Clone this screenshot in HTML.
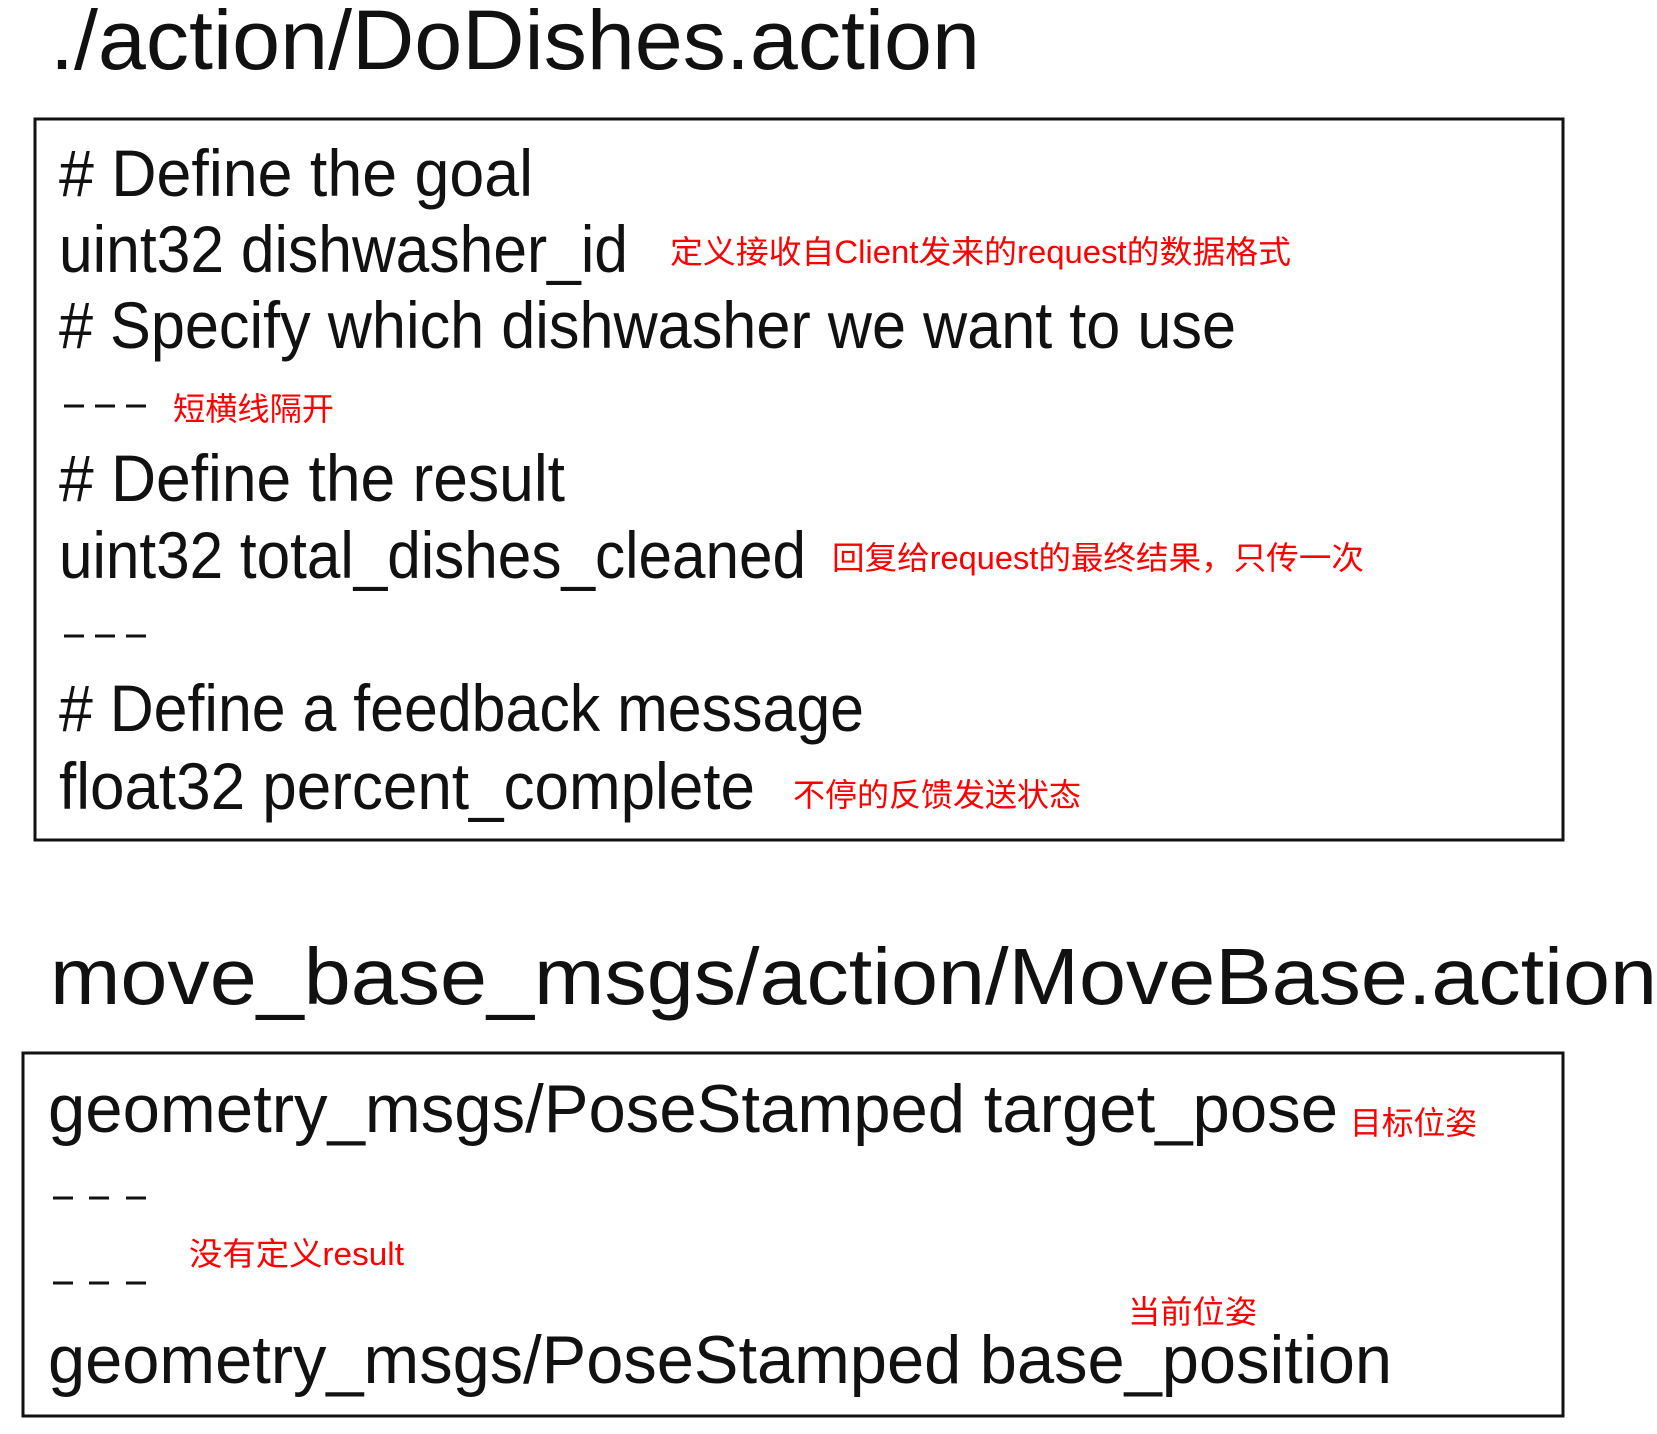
<!DOCTYPE html>
<html><head><meta charset="utf-8"><style>
html,body{margin:0;padding:0;background:#fff;}
svg{display:block;}
.t{font-family:"Liberation Sans",sans-serif;fill:#111;}
.r{font-family:"Liberation Sans","Noto Sans CJK SC",sans-serif;fill:#f00;font-size:32px;}
</style></head><body>
<svg width="1657" height="1434" viewBox="0 0 1657 1434" xmlns="http://www.w3.org/2000/svg">
<text class="t" x="50" y="69" font-size="84" textLength="930" lengthAdjust="spacingAndGlyphs">./action/DoDishes.action</text>
<rect x="35" y="119" width="1528" height="721" fill="none" stroke="#111" stroke-width="3"/>
<text class="t" x="59" y="196" font-size="66" textLength="474" lengthAdjust="spacingAndGlyphs"># Define the goal</text>
<text class="t" x="59" y="272" font-size="66" textLength="569" lengthAdjust="spacingAndGlyphs">uint32 dishwasher_id</text>
<text class="r" x="670" y="263" textLength="621" lengthAdjust="spacingAndGlyphs">定义接收自Client发来的request的数据格式</text>
<text class="t" x="59" y="348" font-size="66" textLength="1177" lengthAdjust="spacingAndGlyphs"># Specify which dishwasher we want to use</text>
<g stroke="#111" stroke-width="3">
<line x1="64" y1="406" x2="84" y2="406"/><line x1="95" y1="406" x2="115" y2="406"/><line x1="126" y1="406" x2="146" y2="406"/>
<line x1="64" y1="636" x2="84" y2="636"/><line x1="95" y1="636" x2="115" y2="636"/><line x1="126" y1="636" x2="146" y2="636"/>
<line x1="53" y1="1198" x2="73" y2="1198"/><line x1="89" y1="1198" x2="109" y2="1198"/><line x1="126" y1="1198" x2="146" y2="1198"/>
<line x1="53" y1="1283" x2="73" y2="1283"/><line x1="89" y1="1283" x2="109" y2="1283"/><line x1="126" y1="1283" x2="146" y2="1283"/>
</g>
<text class="r" x="173" y="420" textLength="161" lengthAdjust="spacingAndGlyphs">短横线隔开</text>
<text class="t" x="59" y="501" font-size="66" textLength="506" lengthAdjust="spacingAndGlyphs"># Define the result</text>
<text class="t" x="59" y="578" font-size="66" textLength="747" lengthAdjust="spacingAndGlyphs">uint32 total_dishes_cleaned</text>
<text class="r" x="832" y="569" textLength="532" lengthAdjust="spacingAndGlyphs">回复给request的最终结果，只传一次</text>
<text class="t" x="59" y="731" font-size="66" textLength="805" lengthAdjust="spacingAndGlyphs"># Define a feedback message</text>
<text class="t" x="59" y="809" font-size="66" textLength="696" lengthAdjust="spacingAndGlyphs">float32 percent_complete</text>
<text class="r" x="793" y="806" textLength="288" lengthAdjust="spacingAndGlyphs">不停的反馈发送状态</text>
<text class="t" x="50" y="1004" font-size="80" textLength="1607" lengthAdjust="spacingAndGlyphs">move_base_msgs/action/MoveBase.action</text>
<rect x="23" y="1053" width="1540" height="363" fill="none" stroke="#111" stroke-width="3"/>
<text class="t" x="48" y="1132" font-size="68" textLength="1290" lengthAdjust="spacingAndGlyphs">geometry_msgs/PoseStamped target_pose</text>
<text class="r" x="1350" y="1134" textLength="127" lengthAdjust="spacingAndGlyphs">目标位姿</text>
<text class="r" x="189" y="1265" textLength="215" lengthAdjust="spacingAndGlyphs">没有定义result</text>
<text class="r" x="1128" y="1323" textLength="129" lengthAdjust="spacingAndGlyphs">当前位姿</text>
<text class="t" x="48" y="1383" font-size="68" textLength="1344" lengthAdjust="spacingAndGlyphs">geometry_msgs/PoseStamped base_position</text>
</svg>
</body></html>
